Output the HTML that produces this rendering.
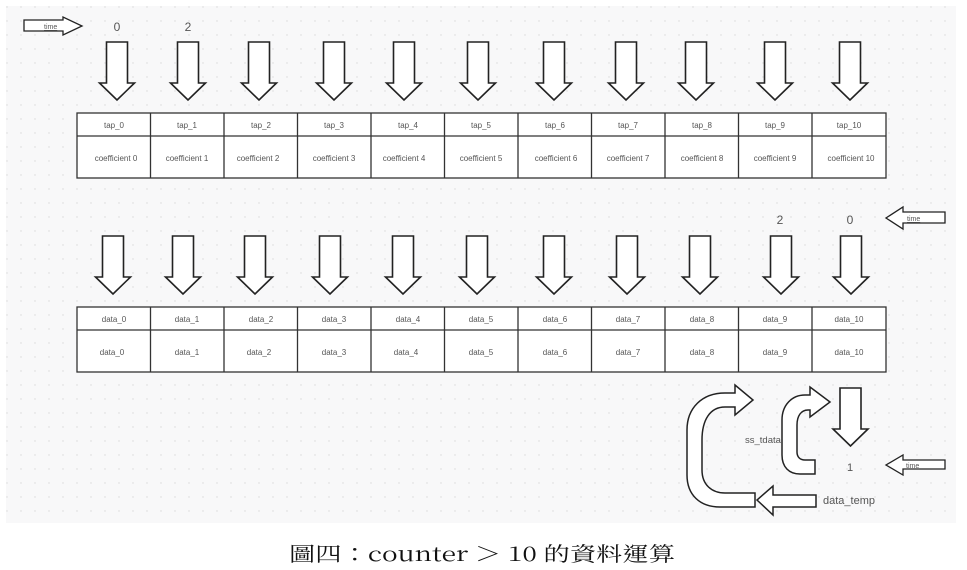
<!DOCTYPE html>
<html><head><meta charset="utf-8"><style>
html,body{margin:0;padding:0;background:#fff;width:967px;height:570px;overflow:hidden}
svg{display:block}
text{font-family:"Liberation Sans",sans-serif;fill:#555}
</style></head><body>
<svg width="967" height="570" viewBox="0 0 967 570" xmlns="http://www.w3.org/2000/svg">
<defs>
<pattern id="dots" width="14" height="14" patternUnits="userSpaceOnUse"><circle cx="7" cy="7" r="0.7" fill="#d8d8d8"/></pattern>
<g id="dn"><path d="M-10.5,0 H10.5 V41 H17.5 L0,58 L-17.5,41 H-10.5 Z" fill="#fff" stroke="#222" stroke-width="1.6"/></g>
</defs>
<rect x="6" y="6" width="950" height="517" fill="#f8f8f9"/>
<rect x="6" y="6" width="950" height="517" fill="url(#dots)"/>

<path d="M24,20 H63 V17 L82,26 L63,35 V31 H24 Z" fill="#fff" stroke="#222" stroke-width="1.3"/>
<text x="44" y="29" font-size="7" text-decoration="underline">time</text>
<text x="117" y="31" font-size="12" text-anchor="middle">0</text>
<text x="188" y="31" font-size="12" text-anchor="middle">2</text>

<g>
<use href="#dn" x="117" y="42"/><use href="#dn" x="188" y="42"/><use href="#dn" x="259" y="42"/><use href="#dn" x="334" y="42"/><use href="#dn" x="404" y="42"/><use href="#dn" x="478" y="42"/><use href="#dn" x="554" y="42"/><use href="#dn" x="626" y="42"/><use href="#dn" x="696" y="42"/><use href="#dn" x="775" y="42"/><use href="#dn" x="850" y="42"/>
</g>

<g fill="#fff" stroke="#333" stroke-width="1.3">
<rect x="77" y="113" width="809" height="65"/>
<line x1="77" y1="136" x2="886" y2="136"/>
<rect x="77" y="307" width="809" height="65"/>
<line x1="77" y1="330" x2="886" y2="330"/>
</g>
<g stroke="#333" stroke-width="1.3">
<line x1="150.5" y1="113" x2="150.5" y2="178"/><line x1="224" y1="113" x2="224" y2="178"/><line x1="297.5" y1="113" x2="297.5" y2="178"/><line x1="371" y1="113" x2="371" y2="178"/><line x1="444.5" y1="113" x2="444.5" y2="178"/><line x1="518" y1="113" x2="518" y2="178"/><line x1="591.5" y1="113" x2="591.5" y2="178"/><line x1="665" y1="113" x2="665" y2="178"/><line x1="738.5" y1="113" x2="738.5" y2="178"/><line x1="812" y1="113" x2="812" y2="178"/>
<line x1="150.5" y1="307" x2="150.5" y2="372"/><line x1="224" y1="307" x2="224" y2="372"/><line x1="297.5" y1="307" x2="297.5" y2="372"/><line x1="371" y1="307" x2="371" y2="372"/><line x1="444.5" y1="307" x2="444.5" y2="372"/><line x1="518" y1="307" x2="518" y2="372"/><line x1="591.5" y1="307" x2="591.5" y2="372"/><line x1="665" y1="307" x2="665" y2="372"/><line x1="738.5" y1="307" x2="738.5" y2="372"/><line x1="812" y1="307" x2="812" y2="372"/>
</g>
<g font-size="8" text-anchor="middle">
<text x="114" y="128">tap_0</text><text x="187" y="128">tap_1</text><text x="261" y="128">tap_2</text><text x="334" y="128">tap_3</text><text x="408" y="128">tap_4</text><text x="481" y="128">tap_5</text><text x="555" y="128">tap_6</text><text x="628" y="128">tap_7</text><text x="702" y="128">tap_8</text><text x="775" y="128">tap_9</text><text x="849" y="128">tap_10</text>
<text x="116" y="161">coefficient 0</text><text x="187" y="161">coefficient 1</text><text x="258" y="161">coefficient 2</text><text x="334" y="161">coefficient 3</text><text x="404" y="161">coefficient 4</text><text x="481" y="161">coefficient 5</text><text x="556" y="161">coefficient 6</text><text x="628" y="161">coefficient 7</text><text x="702" y="161">coefficient 8</text><text x="775" y="161">coefficient 9</text><text x="851" y="161">coefficient 10</text>
<text x="114" y="322">data_0</text><text x="187" y="322">data_1</text><text x="261" y="322">data_2</text><text x="334" y="322">data_3</text><text x="408" y="322">data_4</text><text x="481" y="322">data_5</text><text x="555" y="322">data_6</text><text x="628" y="322">data_7</text><text x="702" y="322">data_8</text><text x="775" y="322">data_9</text><text x="849" y="322">data_10</text>
<text x="112" y="355">data_0</text><text x="187" y="355">data_1</text><text x="259" y="355">data_2</text><text x="334" y="355">data_3</text><text x="406" y="355">data_4</text><text x="481" y="355">data_5</text><text x="555" y="355">data_6</text><text x="628" y="355">data_7</text><text x="702" y="355">data_8</text><text x="775" y="355">data_9</text><text x="849" y="355">data_10</text>
</g>

<path d="M945,212 H903 V207 L886,218 L903,229 V223 H945 Z" fill="#fff" stroke="#222" stroke-width="1.3"/>
<text x="907" y="221" font-size="7" text-decoration="underline">time</text>
<text x="780" y="224" font-size="12" text-anchor="middle">2</text>
<text x="850" y="224" font-size="12" text-anchor="middle">0</text>

<g>
<use href="#dn" x="113" y="236"/><use href="#dn" x="183" y="236"/><use href="#dn" x="255" y="236"/><use href="#dn" x="330" y="236"/><use href="#dn" x="403" y="236"/><use href="#dn" x="477" y="236"/><use href="#dn" x="554" y="236"/><use href="#dn" x="627" y="236"/><use href="#dn" x="700" y="236"/><use href="#dn" x="781" y="236"/><use href="#dn" x="851" y="236"/>
</g>

<path d="M840,388 H861 V429 H868 L850.5,446 L833,429 H840 Z" fill="#fff" stroke="#222" stroke-width="1.6"/>
<text x="850" y="471" font-size="11" text-anchor="middle">1</text>
<path d="M945,460 H903 V455 L886,465 L903,475 V469 H945 Z" fill="#fff" stroke="#222" stroke-width="1.3"/>
<text x="906" y="468" font-size="7" text-decoration="underline">time</text>

<path d="M735,393 V385 L753,400 L735,415 V407 H725 C710,407 702,420 702,440 V470 C702,485 712,493 725,493 H755 V507 H720 C700,507 687,495 687,475 V430 C687,408 702,393 725,393 Z" fill="#fff" stroke="#222" stroke-width="1.5"/>
<path d="M816,495 H773 V486 L757,500 L773,515 V507 H816 Z" fill="#fff" stroke="#222" stroke-width="1.5"/>
<text x="823" y="504" font-size="11">data_temp</text>
<path d="M810,395 V387 L830,402 L810,417 V410 H808 C801,410 797,416 797,425 V452 C797,457 800,460 805,460 H815 V474 H800 C789,474 782,467 782,455 V420 C782,405 792,395 805,395 Z" fill="#fff" stroke="#222" stroke-width="1.5"/>
<text x="745" y="443" font-size="9.5" fill="#333">ss_tdata</text>

<text x="289" y="561" font-size="20" textLength="386" lengthAdjust="spacingAndGlyphs" style="font-family:'Noto Serif CJK TC','Liberation Serif',serif;fill:#111">圖四：counter ＞ 10 的資料運算</text>
</svg>
</body></html>
